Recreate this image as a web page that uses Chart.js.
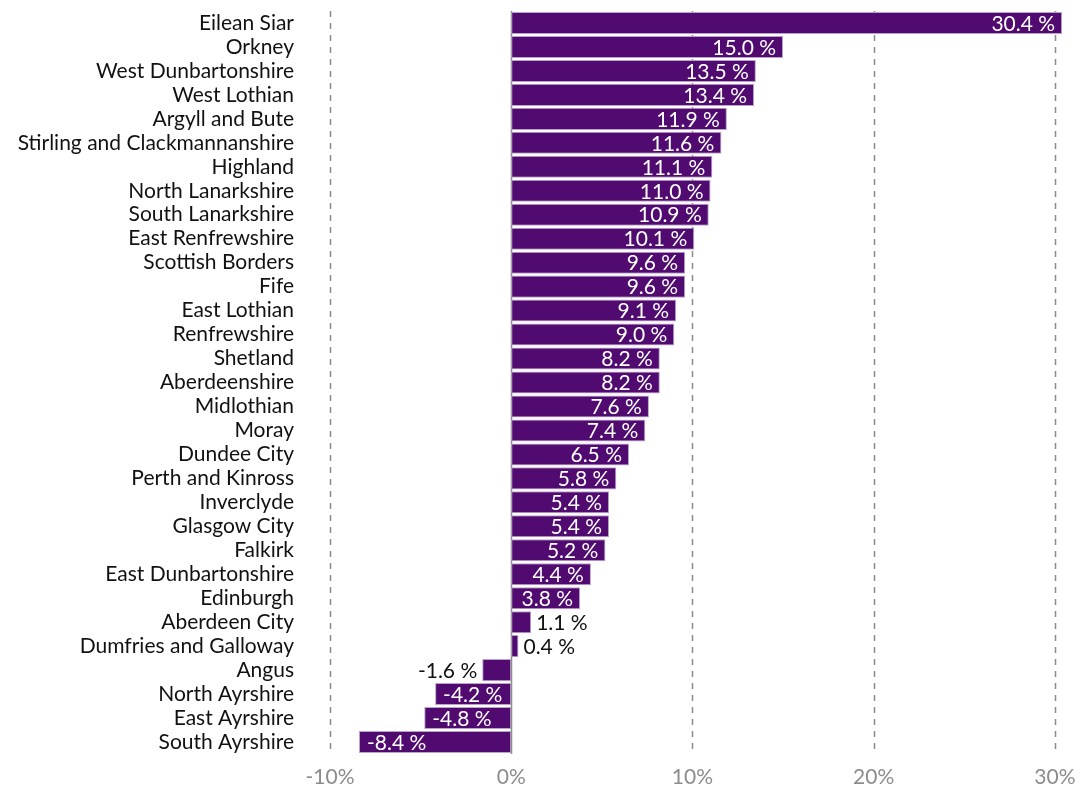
<!DOCTYPE html>
<html>
<head>
<meta charset="utf-8">
<script src="https://cdn.jsdelivr.net/npm/chart.js@4"></script>
<style>
  html, body { margin: 0; padding: 0; background: #fff; }
  #wrap { width: 1087px; height: 790px; }
</style>
</head>
<body>
<div id="wrap"><canvas id="grafica"></canvas></div>
<script>
// Datos
const areas = [
  'Eilean Siar', 'Orkney', 'West Dunbartonshire', 'West Lothian', 'Argyll and Bute',
  'Stirling and Clackmannanshire', 'Highland', 'North Lanarkshire', 'South Lanarkshire',
  'East Renfrewshire', 'Scottish Borders', 'Fife', 'East Lothian', 'Renfrewshire',
  'Shetland', 'Aberdeenshire', 'Midlothian', 'Moray', 'Dundee City', 'Perth and Kinross',
  'Inverclyde', 'Glasgow City', 'Falkirk', 'East Dunbartonshire', 'Edinburgh',
  'Aberdeen City', 'Dumfries and Galloway', 'Angus', 'North Ayrshire', 'East Ayrshire',
  'South Ayrshire'
];
const cambio = [
  30.4, 15.0, 13.5, 13.4, 11.9,
  11.6, 11.1, 11.0, 10.9,
  10.1, 9.6, 9.6, 9.1, 9.0,
  8.2, 8.2, 7.6, 7.4, 6.5, 5.8,
  5.4, 5.4, 5.2, 4.4, 3.8,
  1.1, 0.4, -1.6, -4.2, -4.8,
  -8.4
];
const ticksX = [-10, 0, 10, 20, 30];

const FUENTE = 'Lato, "Noto Sans", sans-serif';
const MORADO = '#510a70';

// lineas de la cuadricula (discontinuas, la del cero continua)
const cuadricula = {
  id: 'cuadricula',
  beforeDatasetsDraw(chart) {
    const { ctx, chartArea, scales } = chart;
    ctx.save();
    ticksX.forEach(v => {
      const x = Math.round(scales.x.getPixelForValue(v)) + 0.5;
      ctx.beginPath();
      ctx.strokeStyle = '#8c8c8c';
      ctx.lineWidth = 1.5;
      ctx.setLineDash(v === 0 ? [] : [6, 6]);
      ctx.moveTo(x, chartArea.top);
      ctx.lineTo(x, chartArea.bottom);
      ctx.stroke();
    });
    ctx.restore();
  }
};

// etiquetas de valor
const etiquetas = {
  id: 'etiquetas',
  afterDatasetsDraw(chart) {
    const { ctx } = chart;
    const meta = chart.getDatasetMeta(0);
    ctx.save();
    ctx.font = '21px ' + FUENTE;
    ctx.textBaseline = 'middle';
    meta.data.forEach((bar, i) => {
      const v = cambio[i];
      const txt = v.toFixed(1) + ' %';
      const w = ctx.measureText(txt).width;
      const ancho = Math.abs(bar.x - bar.base);
      const dentro = ancho > w + 10;
      if (v >= 0) {
        if (dentro) {
          ctx.fillStyle = '#fff';
          ctx.textAlign = 'right';
          ctx.fillText(txt, bar.x - 7, bar.y + 1);
        } else {
          ctx.fillStyle = '#111';
          ctx.textAlign = 'left';
          ctx.fillText(txt, bar.x + 5, bar.y + 1);
        }
      } else {
        if (dentro) {
          ctx.fillStyle = '#fff';
          ctx.textAlign = 'left';
          ctx.fillText(txt, bar.x + 8, bar.y + 1);
        } else {
          ctx.fillStyle = '#111';
          ctx.textAlign = 'right';
          ctx.fillText(txt, bar.x - 5, bar.y + 1);
        }
      }
    });
    ctx.restore();
  }
};

new Chart(document.getElementById('grafica'), {
  type: 'bar',
  data: {
    labels: areas,
    datasets: [{
      data: cambio,
      backgroundColor: MORADO,
      borderColor: '#b9a3cc',
      borderWidth: 1,
      borderSkipped: false,
      barPercentage: 0.92,
      categoryPercentage: 1.0
    }]
  },
  options: {
    indexAxis: 'y',
    responsive: true,
    maintainAspectRatio: false,
    animation: false,
    layout: { padding: { top: 11, right: 14, left: 0, bottom: 0 } },
    plugins: {
      legend: { display: false },
      tooltip: { enabled: false }
    },
    scales: {
      x: {
        min: -10,
        max: 31,
        afterBuildTicks: scale => { scale.ticks = ticksX.map(v => ({ value: v })); },
        afterFit: scale => { scale.height = 36; },
        grid: { display: false },
        border: { display: false },
        ticks: {
          color: '#8c8c8c',
          font: { family: FUENTE, size: 21 },
          padding: 3,
          callback: v => v + '%'
        }
      },
      y: {
        afterFit: scale => {
          scale.width = 330;
          scale.paddingTop = 0;
          scale.paddingBottom = 0;
        },
        grid: { display: false },
        border: { display: false },
        ticks: {
          color: '#111',
          font: { family: FUENTE, size: 21 },
          padding: 28,
          autoSkip: false
        }
      }
    }
  },
  plugins: [cuadricula, etiquetas]
});
</script>
</body>
</html>
